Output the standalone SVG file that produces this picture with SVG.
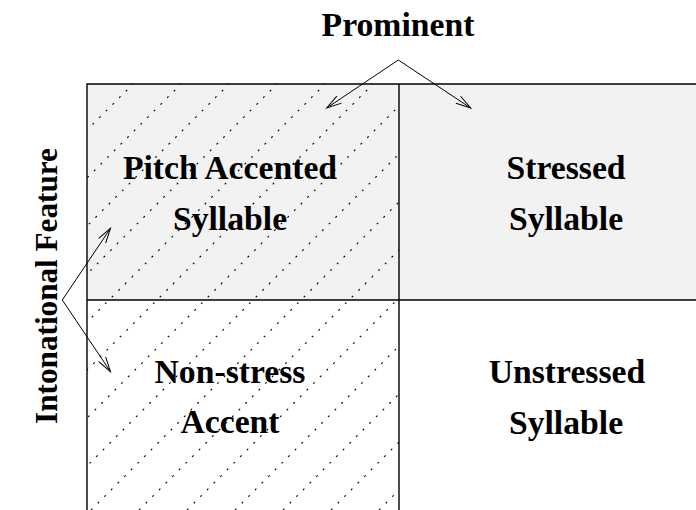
<svg xmlns="http://www.w3.org/2000/svg" width="696" height="510" viewBox="0 0 696 510">
<style>
  text { font-family: "Liberation Serif", "Times New Roman", serif; font-weight: bold; font-size: 33.7px; fill: #000; }
  .lbl { text-anchor: middle; }
  .side { font-size: 31.2px; }
  .frame { stroke: #000; stroke-width: 1.4; fill: none; }
  .hatch { stroke: #000; stroke-width: 1.1; stroke-dasharray: 2 7.4; fill: none; }
  .arrow { stroke: #000; stroke-width: 1; fill: none; marker-end: url(#openhead); }
</style>
<defs>
  <marker id="openhead" viewBox="-16 -6 18 12" markerWidth="18" markerHeight="12" refX="0" refY="0" orient="auto" markerUnits="userSpaceOnUse">
    <path d="M-15,-4.2 L0,0 L-15,4.2" stroke="#000" stroke-width="1" fill="none"/>
  </marker>
  <clipPath id="leftcol">
    <rect x="87" y="84" width="312" height="426"/>
  </clipPath>
</defs>
<rect width="696" height="510" fill="#fff"/>
<g id="grid">
  <rect x="87" y="84" width="609" height="216" fill="#f2f2f2"/>
  <g clip-path="url(#leftcol)">
    <path class="hatch" d="M-341,510 L85,84 M-293,510 L133,84 M-245,510 L181,84 M-197,510 L229,84 M-149,510 L277,84 M-101,510 L325,84 M-53,510 L373,84 M-5,510 L421,84 M43,510 L469,84 M91,510 L517,84 M139,510 L565,84 M187,510 L613,84 M235,510 L661,84 M283,510 L709,84 M331,510 L757,84 M379,510 L805,84 M427,510 L853,84"/>
  </g>
  <path class="frame" d="M87,510 L87,84 L696,84 M399,84 L399,510 M87,300 L696,300"/>
</g>
<g id="cell-pitch-accented">
  <text class="lbl" x="230" y="179">Pitch Accented</text>
  <text class="lbl" x="230" y="230">Syllable</text>
</g>
<g id="cell-stressed">
  <text class="lbl" x="566" y="179">Stressed</text>
  <text class="lbl" x="566" y="230">Syllable</text>
</g>
<g id="cell-non-stress">
  <text class="lbl" x="230" y="383">Non-stress</text>
  <text class="lbl" x="230" y="433">Accent</text>
</g>
<g id="cell-unstressed">
  <text class="lbl" x="567" y="383">Unstressed</text>
  <text class="lbl" x="566" y="434">Syllable</text>
</g>
<g id="label-prominent">
  <text class="lbl" x="398" y="36">Prominent</text>
</g>
<g id="label-intonational">
  <text class="lbl side" transform="translate(57,286) rotate(-90)">Intonational Feature</text>
</g>
<g id="connectors">
  <path class="arrow" d="M398.3,60 L326.7,108"/>
  <path class="arrow" d="M398.3,60 L470.7,108"/>
  <path class="arrow" d="M62.3,300 L110.5,228.3"/>
  <path class="arrow" d="M62.3,300 L110.5,371.7"/>
</g>
</svg>
